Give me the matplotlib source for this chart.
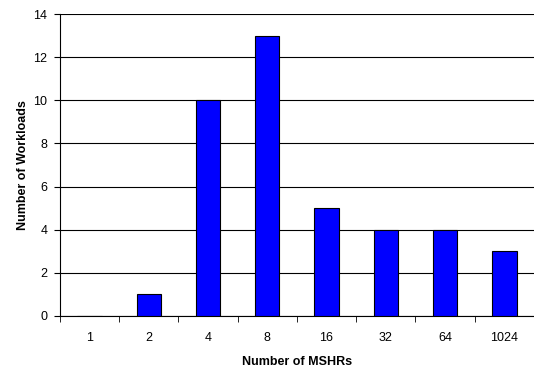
import numpy as np
import matplotlib
matplotlib.use("Agg")
import matplotlib.pyplot as plt

plt.rcParams["font.family"] = ["Liberation Sans", "DejaVu Sans"]

mshrs = ["1", "2", "4", "8", "16", "32", "64", "1024"]
workloads = [0, 1, 10, 13, 5, 4, 4, 3]

fig = plt.figure(figsize=(5.34, 3.72), dpi=100)
ax = fig.add_axes([0.112, 0.151, 0.888, 0.811])

x = np.arange(len(mshrs))
ax.bar(x, workloads, width=0.41, color="#0000ff", edgecolor="black", linewidth=0.8, zorder=3)

ax.set_xlim(-0.5, len(mshrs) - 0.5)
ax.set_ylim(0, 14)
ax.set_yticks(range(0, 15, 2))
ax.yaxis.grid(True, color="black", linewidth=0.8)
ax.set_axisbelow(True)

ax.set_xticks(x)
ax.set_xticklabels(mshrs)
ax.set_xticks(np.arange(-0.5, len(mshrs)), minor=True)
ax.tick_params(axis="x", which="major", length=0, pad=12, labelsize=9)
ax.tick_params(axis="x", which="minor", length=4, direction="out")
ax.tick_params(axis="y", length=4, direction="out", labelsize=9, pad=5)

for s in ["top", "right"]:
    ax.spines[s].set_visible(False)
ax.spines["left"].set_linewidth(0.8)
ax.spines["bottom"].set_linewidth(0.8)

ax.set_xlabel("Number of MSHRs", fontsize=9, fontweight="bold", labelpad=8)
ax.set_ylabel("Number of Workloads", fontsize=9, fontweight="bold", labelpad=3)

fig.savefig("out.png", dpi=100)
